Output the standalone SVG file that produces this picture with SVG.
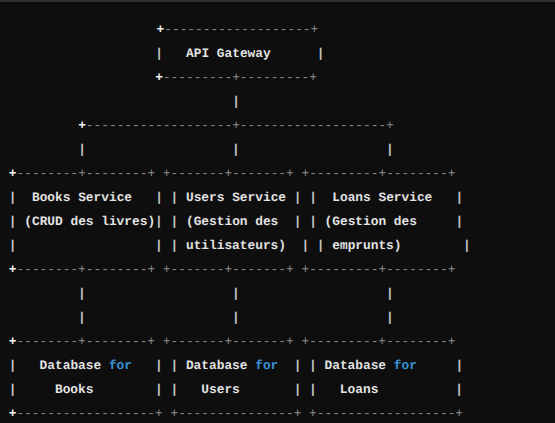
<svg xmlns="http://www.w3.org/2000/svg" width="555" height="423" viewBox="0 0 555 423" xml:space="preserve">
<style>
text{font-family:"Liberation Mono","DejaVu Sans Mono",monospace;font-size:12.83px;white-space:pre;text-rendering:geometricPrecision}
.d{fill:#8a8a8a}
.w{fill:#f2f2f2;font-weight:bold}
.t{fill:#e2e2e2;font-weight:bold}
.p{fill:#c4c4c4;font-weight:bold}
.k{fill:#3a93d6;font-weight:bold}
</style>
<rect x="0" y="0" width="555" height="423" fill="#0e0e0e"/>
<rect x="0" y="0" width="555" height="2" fill="#303030"/>
<g transform="rotate(0.02 277 211)">
<g id="api-gateway">
<text x="156.5" y="33"><tspan class="w">+</tspan><tspan class="d">-------------------+</tspan></text>
<text x="155.15" y="57"><tspan class="p">|</tspan><tspan class="t">   API Gateway      </tspan><tspan class="p">|</tspan></text>
<text x="155.15" y="81"><tspan class="w">+</tspan><tspan class="d">---------+---------+</tspan></text>
</g>

<g id="connectors">
<text x="232.15" y="105" class="p">|</text>
<text x="78.15" y="129"><tspan class="w">+</tspan><tspan class="d">-------------------+-------------------+</tspan></text>
<text x="78.15" y="153" class="p">|                   |                   |</text>
<text x="78.15" y="297" class="p">|                   |                   |</text>
<text x="78.15" y="321" class="p">|                   |                   |</text>
</g>

<g id="books-service">
<text x="8.85" y="177"><tspan class="w">+</tspan><tspan class="d">--------+--------+</tspan></text>
<text x="8.85" y="201"><tspan class="p">|</tspan><tspan class="t">  Books Service   </tspan><tspan class="p">|</tspan></text>
<text x="8.85" y="225"><tspan class="p">|</tspan><tspan class="t"> (CRUD des livres)</tspan><tspan class="p">|</tspan></text>
<text x="8.85" y="249"><tspan class="p">|                  |</tspan></text>
<text x="8.85" y="273"><tspan class="w">+</tspan><tspan class="d">--------+--------+</tspan></text>
</g>

<g id="users-service">
<text x="162.85" y="177" class="d">+-------+-------+</text>
<text x="170.55" y="201"><tspan class="p">|</tspan><tspan class="t"> Users Service </tspan><tspan class="p">|</tspan></text>
<text x="170.55" y="225"><tspan class="p">|</tspan><tspan class="t"> (Gestion des  </tspan><tspan class="p">|</tspan></text>
<text x="170.55" y="249"><tspan class="p">|</tspan><tspan class="t"> utilisateurs)  </tspan><tspan class="p">|</tspan></text>
<text x="162.85" y="273" class="d">+-------+-------+</text>
</g>

<g id="loans-service">
<text x="301.45" y="177" class="d">+---------+--------+</text>
<text x="309.15" y="201"><tspan class="p">|</tspan><tspan class="t">  Loans Service   </tspan><tspan class="p">|</tspan></text>
<text x="309.15" y="225"><tspan class="p">|</tspan><tspan class="t"> (Gestion des     </tspan><tspan class="p">|</tspan></text>
<text x="316.85" y="249"><tspan class="p">|</tspan><tspan class="t"> emprunts)        </tspan><tspan class="p">|</tspan></text>
<text x="301.45" y="273" class="d">+---------+--------+</text>
</g>

<g id="books-db">
<text x="8.85" y="345"><tspan class="w">+</tspan><tspan class="d">--------+--------+</tspan></text>
<text x="8.85" y="369"><tspan class="p">|</tspan><tspan class="t">   Database </tspan><tspan class="k">for</tspan><tspan class="t">   </tspan><tspan class="p">|</tspan></text>
<text x="8.85" y="393"><tspan class="p">|</tspan><tspan class="t">     Books        </tspan><tspan class="p">|</tspan></text>
<text x="8.85" y="417"><tspan class="w">+</tspan><tspan class="d">------------------+</tspan></text>
</g>

<g id="users-db">
<text x="162.85" y="345" class="d">+-------+-------+</text>
<text x="170.55" y="369"><tspan class="p">|</tspan><tspan class="t"> Database </tspan><tspan class="k">for</tspan><tspan class="t">  </tspan><tspan class="p">|</tspan></text>
<text x="170.55" y="393"><tspan class="p">|</tspan><tspan class="t">   Users       </tspan><tspan class="p">|</tspan></text>
<text x="170.55" y="417" class="d">+---------------+</text>
</g>

<g id="loans-db">
<text x="301.45" y="345" class="d">+---------+--------+</text>
<text x="309.15" y="369"><tspan class="p">|</tspan><tspan class="t"> Database </tspan><tspan class="k">for</tspan><tspan class="t">     </tspan><tspan class="p">|</tspan></text>
<text x="309.15" y="393"><tspan class="p">|</tspan><tspan class="t">   Loans          </tspan><tspan class="p">|</tspan></text>
<text x="309.15" y="417" class="d">+------------------+</text>
</g>
</g>
</svg>
